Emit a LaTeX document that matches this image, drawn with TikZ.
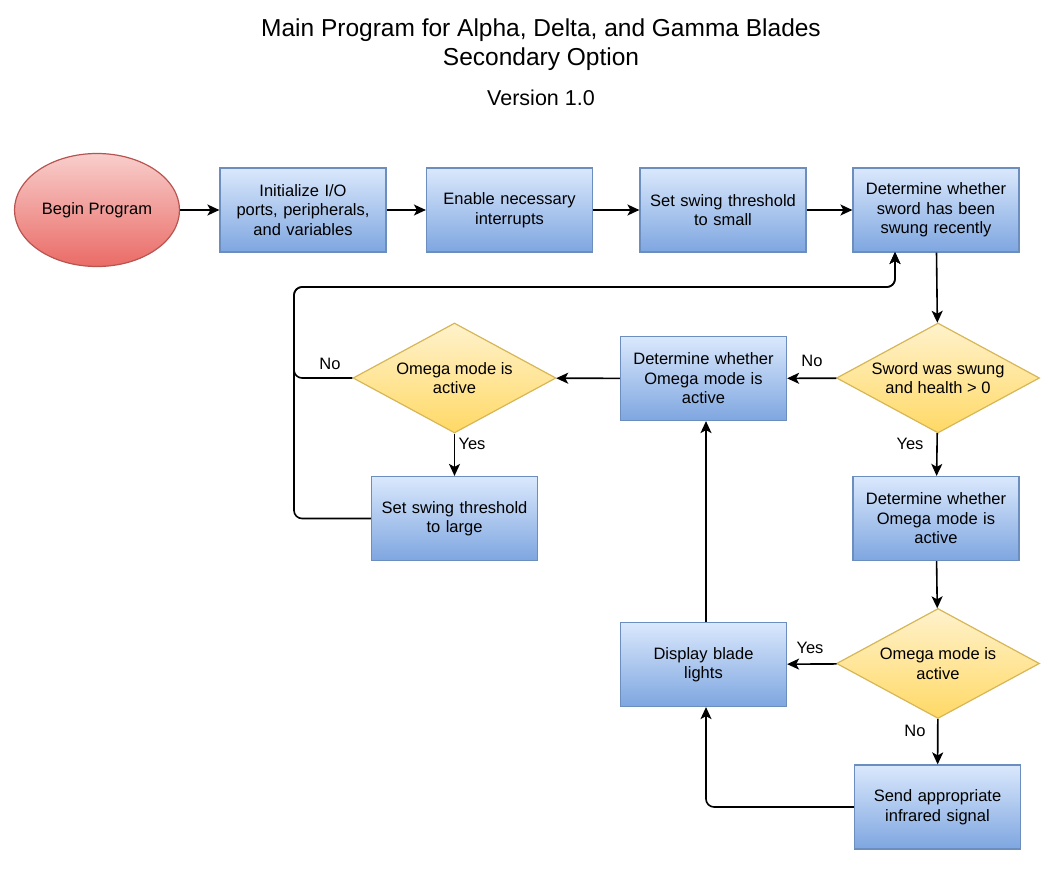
\documentclass[tikz,border=0pt]{standalone}
\usepackage{fontspec}
\setmainfont{Liberation Sans}
\usetikzlibrary{shapes.geometric,arrows.meta}
\definecolor{boxtop}{HTML}{DAE8FC}
\definecolor{boxbot}{HTML}{7EA6E0}
\definecolor{boxline}{HTML}{6C8EBF}
\definecolor{dectop}{HTML}{FFF2CC}
\definecolor{decbot}{HTML}{FFD966}
\definecolor{decline}{HTML}{D6B656}
\definecolor{starttop}{HTML}{F8CECC}
\definecolor{startbot}{HTML}{EA6B66}
\definecolor{startline}{HTML}{B85450}

\begin{document}
\begin{tikzpicture}[x=1pt, y=-1pt,
	every node/.style={font=\fontsize{16.5}{19.5}\selectfont},
	proc/.style={rectangle, draw=boxline, line width=1.2pt, top color=boxtop, bottom color=boxbot, minimum width=166, minimum height=84, text width=155, align=center, inner sep=0pt},
	dec/.style={diamond, draw=decline, line width=1.2pt, top color=dectop, bottom color=decbot, minimum width=203, minimum height=110, aspect=1.84, align=center, inner sep=0pt},
	term/.style={ellipse, draw=startline, line width=1.2pt, top color=starttop, bottom color=startbot, minimum width=165, minimum height=113, inner sep=0pt},
	flow/.style={line width=1.6pt, -{Stealth[length=12pt,width=11pt,inset=3pt]}, rounded corners=8pt},
	lbl/.style={inner sep=1pt}]
\useasboundingbox (0,0) rectangle (1063,888);

% titles
\node[align=center, font=\fontsize{24.5}{29}\selectfont] (title) at (541,45) {Main Program for Alpha, Delta, and Gamma Blades\\Secondary Option};
\node[font=\fontsize{21.5}{25}\selectfont] (version) at (541,98) {Version 1.0};

% top row
\node[term] (begin) at (97,210) {Begin Program};
\node[proc] (init) at (303,210) {Initialize I/O\\ports, peripherals,\\and variables};
\node[proc] (irq) at (509.5,210) {Enable necessary\\interrupts};
\node[proc] (small) at (723,210) {Set swing threshold\\to small};
\node[proc] (recent) at (936,210) {Determine whether\\sword has been\\swung recently};

% middle
\node[dec] (swung) at (938,378) {Sword was swung\\and health > 0};
\node[proc] (omegaA) at (703.5,378.5) {Determine whether\\Omega mode is\\active};
\node[dec] (omegaL) at (454.5,378) {Omega mode is\\active};
\node[proc] (large) at (454.5,518.5) {Set swing threshold\\to large};
\node[proc] (omegaB) at (936,518.5) {Determine whether\\Omega mode is\\active};

% bottom
\node[dec] (omegaR) at (938,663.5) {Omega mode is\\active};
\node[proc] (lights) at (703.5,664.5) {Display blade\\lights};
\node[proc] (ir) at (937.5,807) {Send appropriate\\infrared signal};

\coordinate (back) at (294,287);
\coordinate (intoRecent) at (895,252);

\draw[flow] (begin) -- (init);
\draw[flow] (init) -- (irq);
\draw[flow] (irq) -- (small);
\draw[flow] (small) -- (recent);
\draw[flow] (recent) -- (swung);
\draw[flow] (swung) -- (omegaA);
\draw[flow] (omegaA) -- (omegaL);
\draw[flow] (omegaL.west) -| (back) -| (intoRecent);
\draw[flow] (large.west) -| (back) -| (intoRecent);
\draw[flow] (omegaL) -- (large);
\draw[flow] (swung) -- (omegaB);
\draw[flow] (omegaB) -- (omegaR);
\draw[flow] (omegaR) -- (lights);
\draw[flow] (omegaR) -- (ir);
\draw[flow] (ir.west) -| (lights.south -| 706,0);
\draw[flow] (lights.north -| 706,0) -- (omegaA.south -| 706,0);

% branch labels
\node[lbl] (noL) at (330,364) {No};
\node[lbl] (yesL) at (472,444) {Yes};
\node[lbl] (noS) at (812,361) {No};
\node[lbl] (yesS) at (910,444) {Yes};
\node[lbl] (yesR) at (810,648) {Yes};
\node[lbl] (noR) at (915,731) {No};
\end{tikzpicture}
\end{document}
